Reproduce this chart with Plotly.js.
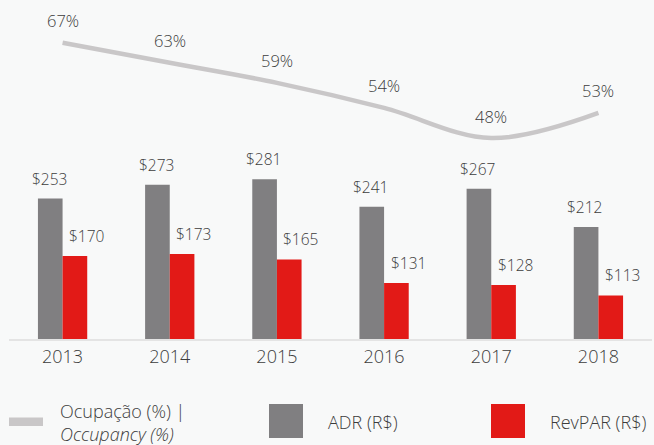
<!DOCTYPE html>
<html>
<head>
<meta charset="utf-8">
<script src="https://cdn.plot.ly/plotly-3.0.1.min.js"></script>
<style>
html,body{margin:0;padding:0;background:#f8f9f9;}
#chart{width:654px;height:445px;}
</style>
</head>
<body>
<div id="chart"></div>
<script>
// ---- data ----
const years = ['2013', '2014', '2015', '2016', '2017', '2018'];
const adr = [253, 273, 281, 241, 267, 212];
const revpar = [170, 173, 165, 131, 128, 113];
const occupancy = [67, 63, 59, 54, 48, 53];
const seriesNames = ['Ocupação (%) |', 'Occupancy (%)', 'ADR (R$)', 'RevPAR (R$)'];

// ---- style ----
const W = 654, H = 445;
const M = {l: 9, r: 2, t: 0, b: 106};
const grey = '#807f81', red = '#e21a17', lineGrey = '#c9c7c8', txt = '#3c3c3c';
const FONT = 'Open Sans, Noto Sans, sans-serif';

const pw = W - M.l - M.r, ph = H - M.t - M.b;
const px = x => (x - M.l) / pw;
const py = y => (H - M.b - y) / ph;

const traces = [
  {type: 'bar', x: years, y: adr, name: seriesNames[2], marker: {color: grey}, hoverinfo: 'skip'},
  {type: 'bar', x: years, y: revpar, name: seriesNames[3], marker: {color: red}, hoverinfo: 'skip'},
  {type: 'scatter', mode: 'lines', x: years, y: occupancy, yaxis: 'y2', name: seriesNames[0],
   line: {color: lineGrey, width: 4.5, shape: 'spline', smoothing: 1}, hoverinfo: 'skip'}
];

const labelFont = {family: FONT, size: 15.5, color: txt, weight: 300};
const pctFont = {family: FONT, size: 16.5, color: txt, weight: 300};
const annotations = [];
years.forEach((yr, i) => {
  annotations.push({x: i, y: adr[i], xref: 'x', yref: 'y', text: '$' + adr[i], showarrow: false,
    xanchor: 'center', yanchor: 'middle', xshift: -13.5, yshift: 20, font: labelFont});
  annotations.push({x: i, y: revpar[i], xref: 'x', yref: 'y', text: '$' + revpar[i], showarrow: false,
    xanchor: 'center', yanchor: 'middle', xshift: 24, yshift: 20, font: labelFont});
  annotations.push({x: i, y: occupancy[i], xref: 'x', yref: 'y2', text: occupancy[i] + '%', showarrow: false,
    xanchor: 'center', yanchor: 'middle', yshift: 22, font: pctFont});
});

// custom legend
const legFont = {family: FONT, size: 18, color: txt, weight: 300};
annotations.push({xref: 'paper', yref: 'paper', x: px(58), y: py(422), xanchor: 'left', yanchor: 'middle',
  align: 'left', showarrow: false, text: seriesNames[0] + '<br><i>' + seriesNames[1] + '</i>', font: legFont});
annotations.push({xref: 'paper', yref: 'paper', x: px(326), y: py(421.5), xanchor: 'left', yanchor: 'middle',
  showarrow: false, text: seriesNames[2], font: legFont});
annotations.push({xref: 'paper', yref: 'paper', x: px(548), y: py(421.5), xanchor: 'left', yanchor: 'middle',
  showarrow: false, text: seriesNames[3], font: legFont});

const shapes = [
  {type: 'rect', xref: 'paper', yref: 'paper', x0: px(9), x1: px(43), y0: py(417.5), y1: py(426),
   fillcolor: lineGrey, line: {width: 0}},
  {type: 'rect', xref: 'paper', yref: 'paper', x0: px(269), x1: px(303), y0: py(404), y1: py(438),
   fillcolor: grey, line: {width: 0}},
  {type: 'rect', xref: 'paper', yref: 'paper', x0: px(491), x1: px(525), y0: py(404), y1: py(438),
   fillcolor: red, line: {width: 0}}
];

const hiddenAxis = {showgrid: false, zeroline: false, showline: false, ticks: '', showticklabels: false, fixedrange: true};

const layout = {
  width: W, height: H,
  margin: M,
  paper_bgcolor: '#f8f9f9', plot_bgcolor: '#f8f9f9',
  showlegend: false,
  barmode: 'group', bargap: 0.54, bargroupgap: 0,
  font: {family: FONT, color: txt},
  xaxis: {type: 'category', range: [-0.5, 5.5], showline: true, linecolor: '#e4e4e4', linewidth: 2,
          ticks: '', showgrid: false, zeroline: false, fixedrange: true,
          tickfont: {family: FONT, size: 18, color: txt, weight: 300}},
  yaxis: Object.assign({range: [50, 539.9]}, hiddenAxis),
  yaxis2: Object.assign({range: [7.97, 75.5], overlaying: 'y', side: 'right'}, hiddenAxis),
  annotations: annotations,
  shapes: shapes
};

Plotly.newPlot('chart', traces, layout, {staticPlot: true, displayModeBar: false});
</script>
</body>
</html>
